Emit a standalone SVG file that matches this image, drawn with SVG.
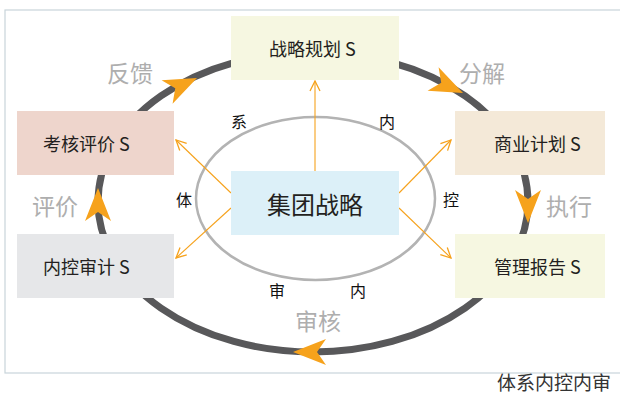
<svg xmlns="http://www.w3.org/2000/svg" width="620" height="398" viewBox="0 0 620 398">
<style>
.box{stroke:none}
.bt{font-family:"Noto Sans CJK SC","Liberation Sans",sans-serif;font-size:18px;fill:#231f20}
.gl{font-family:"Noto Sans CJK SC",sans-serif;font-size:23px;fill:#aeaeae}
.sl{font-family:"Noto Sans CJK SC",sans-serif;font-size:16px;fill:#111}
.thin{stroke:#f6a21c;stroke-width:1.1;fill:none}
.ah{fill:#f6a21c}
</style>
<defs>
<marker id="open" viewBox="0 0 12 12" refX="11" refY="6" markerWidth="12" markerHeight="12" markerUnits="userSpaceOnUse" orient="auto">
<path d="M1,1 L11,6 L1,11" fill="none" stroke="#f6a21c" stroke-width="1.3"/>
</marker>
<path id="bigArrow" d="M0,0 L-33,-13 L-24,0 L-33,13 Z"/>
</defs>
<rect x="5" y="10" width="640" height="363" fill="#ffffff" stroke="#c9d4da" stroke-width="1.2"/>
<g id="connectors">
<ellipse cx="313" cy="202" rx="215" ry="150" fill="none" stroke="#58585a" stroke-width="7"/>
<ellipse cx="315.5" cy="198.5" rx="119.5" ry="81.5" fill="none" stroke="#b3b3b3" stroke-width="2.5"/>
<line class="thin" x1="315" y1="171" x2="315" y2="81" marker-end="url(#open)"/>
<line class="thin" x1="231" y1="193" x2="176" y2="140" marker-end="url(#open)"/>
<line class="thin" x1="399" y1="193" x2="451" y2="140" marker-end="url(#open)"/>
<line class="thin" x1="231" y1="208" x2="176" y2="258" marker-end="url(#open)"/>
<line class="thin" x1="399" y1="208" x2="451" y2="258" marker-end="url(#open)"/>
</g>
<g id="n-top"><rect class="box" x="231" y="16" width="168" height="64" fill="#f6f7e1"/><text class="bt" x="269" y="56">战略规划 S</text></g>
<g id="n-ul"><rect class="box" x="17" y="111" width="157" height="64" fill="#eed5cc"/><text class="bt" x="43" y="151">考核评价 S</text></g>
<g id="n-ur"><rect class="box" x="455" y="111" width="150" height="64" fill="#f4e9d8"/><text class="bt" x="494" y="151">商业计划 S</text></g>
<g id="n-ll"><rect class="box" x="17" y="234" width="157" height="64" fill="#e6e7e9"/><text class="bt" x="43" y="274">内控审计 S</text></g>
<g id="n-lr"><rect class="box" x="455" y="234" width="150" height="64" fill="#f6f7e1"/><text class="bt" x="494" y="274">管理报告 S</text></g>
<g id="n-center"><rect class="box" x="231" y="171" width="168" height="64" fill="#dcf0f8"/><text x="315" y="214" text-anchor="middle" font-family="Noto Sans CJK SC,sans-serif" font-size="24" fill="#231f20">集团战略</text></g>
<g id="ring-arrows" class="ah">
<use href="#bigArrow" transform="translate(197,78) rotate(-25)"/>
<use href="#bigArrow" transform="translate(463,93) rotate(25)"/>
<use href="#bigArrow" transform="translate(528,223) rotate(90)"/>
<use href="#bigArrow" transform="translate(293,352) rotate(180)"/>
<use href="#bigArrow" transform="translate(98,188) rotate(-90)"/>
</g>
<g id="labels">
<text class="gl" x="107" y="82">反馈</text>
<text class="gl" x="459" y="82">分解</text>
<text class="gl" x="546" y="215">执行</text>
<text class="gl" x="32" y="215">评价</text>
<text class="gl" x="295" y="330">审核</text>
<text class="sl" x="231" y="128">系</text>
<text class="sl" x="379" y="128">内</text>
<text class="sl" x="176" y="206">体</text>
<text class="sl" x="443" y="206">控</text>
<text class="sl" x="269" y="297">审</text>
<text class="sl" x="350" y="297">内</text>
<text x="497" y="390" font-family="Noto Sans CJK SC,sans-serif" font-size="19" fill="#333">体系内控内审</text>
</g>
</svg>
